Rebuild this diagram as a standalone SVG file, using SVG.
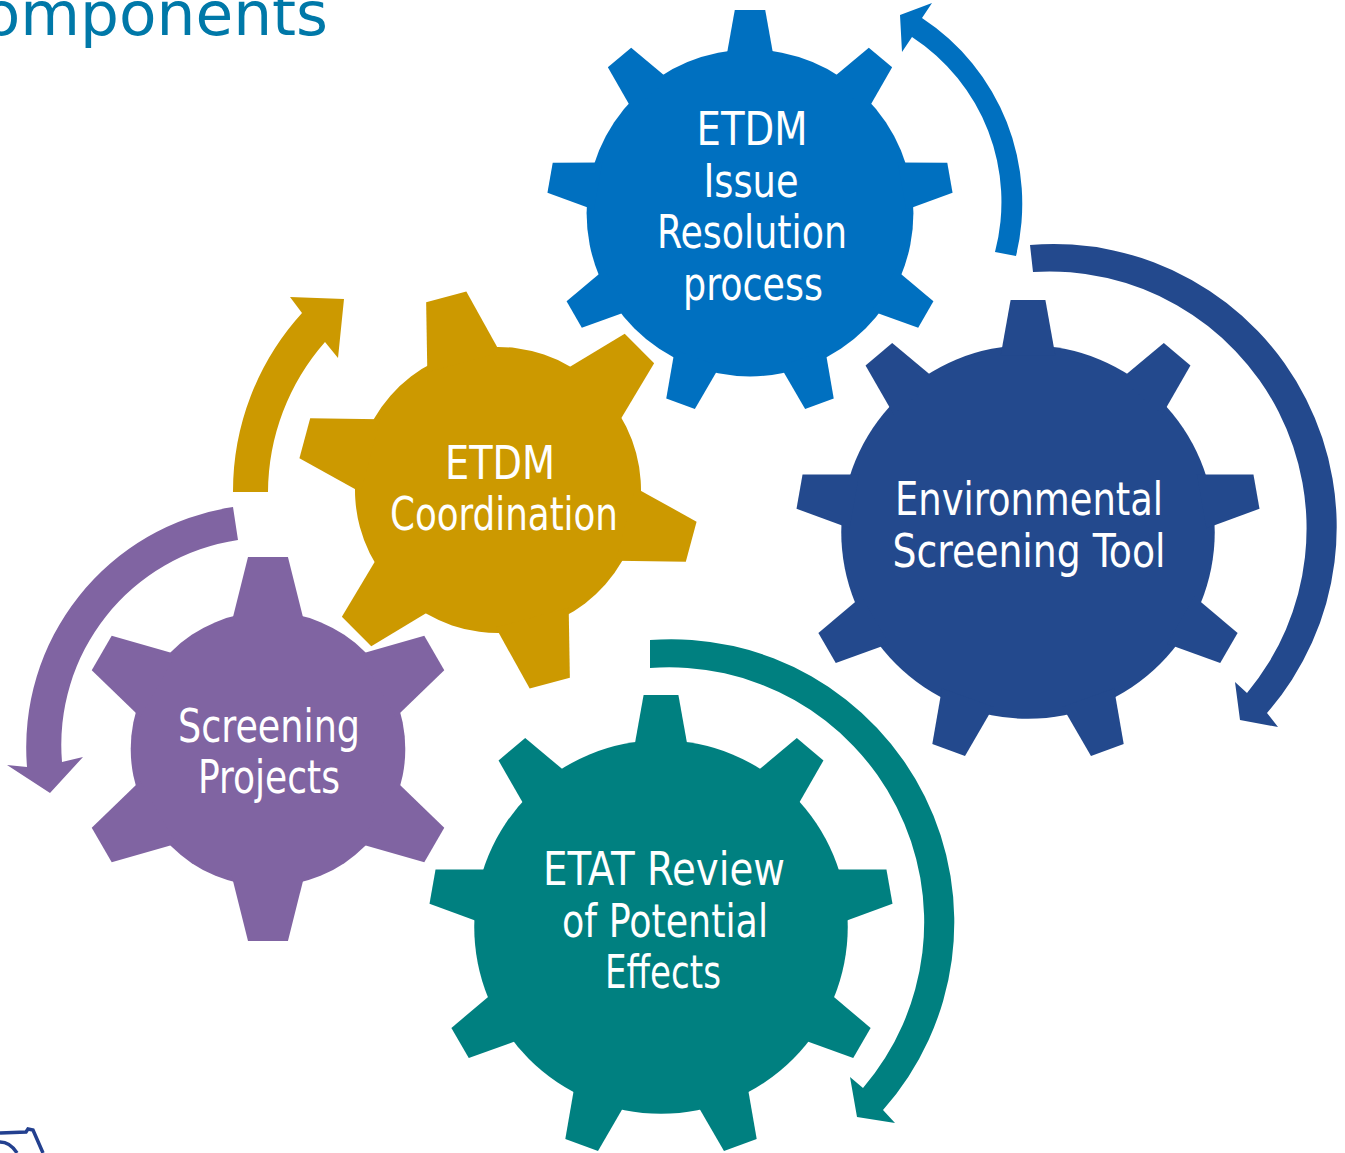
<svg xmlns="http://www.w3.org/2000/svg" width="1345" height="1153" viewBox="0 0 1345 1153">
<style>
.lbl{font-family:"DejaVu Sans Condensed","DejaVu Sans",Verdana,sans-serif;font-stretch:condensed;font-size:46px;fill:#ffffff;text-anchor:middle}
.title{font-family:"DejaVu Sans",Verdana,sans-serif;font-size:60px;fill:#0078A8}
.blue{fill:#0070C0}
.navy{fill:#23498D}
.gold{fill:#CC9900}
.purple{fill:#8064A2}
.teal{fill:#008080}
</style>
<defs>
<path id="t9" d="M-11.8,-76 L-7.5,-100 L7.5,-100 L11.8,-76 Z"/>
<g id="gear9">
<circle r="80.5"/>
<use href="#t9"/>
<use href="#t9" transform="rotate(40)"/>
<use href="#t9" transform="rotate(80)"/>
<use href="#t9" transform="rotate(120)"/>
<use href="#t9" transform="rotate(160)"/>
<use href="#t9" transform="rotate(200)"/>
<use href="#t9" transform="rotate(240)"/>
<use href="#t9" transform="rotate(280)"/>
<use href="#t9" transform="rotate(320)"/>
</g>
<path id="t6" d="M-18.9,-66 L-10.4,-100 L10.4,-100 L18.9,-66 Z"/>
<g id="gear6">
<circle r="71.5"/>
<use href="#t6"/>
<use href="#t6" transform="rotate(60)"/>
<use href="#t6" transform="rotate(120)"/>
<use href="#t6" transform="rotate(180)"/>
<use href="#t6" transform="rotate(240)"/>
<use href="#t6" transform="rotate(300)"/>
</g>
</defs>

<text class="title" x="-60" y="35" textLength="388" lengthAdjust="spacingAndGlyphs">Components</text>

<g id="connectors">
<path class="blue" d="M1016,256 A222,222 0 0 0 922,18 L932,3 L900,15 L902,52 L912,37 A197,197 0 0 1 995,252 Z"/>
<path class="navy" d="M1030,245 A283,283 0 0 1 1267,713 L1278,727 L1240,720 L1235,682 L1247,693 A257,257 0 0 0 1033,272 Z"/>
<path class="teal" d="M650,640 A283,283 0 0 1 883,1110 L895,1123 L857,1117 L850,1077 L863,1088 A255,255 0 0 0 650,668 Z"/>
<path class="gold" d="M233,492 A265,265 0 0 1 302,313 L290,297 L344,299 L338,358 L325,342 A229,229 0 0 0 268,492 Z"/>
<path class="purple" d="M233,507 A243,243 0 0 0 27,767 L7,765 L50,793 L83,757 L62,762 A207,207 0 0 1 238,540 Z"/>
</g>

<g id="node-etdm-issue-resolution">
<use href="#gear9" class="blue" transform="translate(750,213) scale(2.03)"/>
<text class="lbl" x="752" y="145" textLength="111" lengthAdjust="spacingAndGlyphs">ETDM</text>
<text class="lbl" x="751" y="197" textLength="95" lengthAdjust="spacingAndGlyphs">Issue</text>
<text class="lbl" x="752" y="248" textLength="190" lengthAdjust="spacingAndGlyphs">Resolution</text>
<text class="lbl" x="753" y="300" textLength="140" lengthAdjust="spacingAndGlyphs">process</text>
</g>

<g id="node-environmental-screening-tool">
<use href="#gear9" class="navy" transform="translate(1028,532) scale(2.32)"/>
<text class="lbl" x="1029" y="515" textLength="268" lengthAdjust="spacingAndGlyphs">Environmental</text>
<text class="lbl" x="1029" y="567" textLength="273" lengthAdjust="spacingAndGlyphs">Screening Tool</text>
</g>

<g id="node-etat-review">
<use href="#gear9" class="teal" transform="translate(661,927) scale(2.32)"/>
<text class="lbl" x="664" y="885" textLength="242" lengthAdjust="spacingAndGlyphs">ETAT Review</text>
<text class="lbl" x="665" y="937" textLength="206" lengthAdjust="spacingAndGlyphs">of Potential</text>
<text class="lbl" x="663" y="988" textLength="116" lengthAdjust="spacingAndGlyphs">Effects</text>
</g>

<g id="node-etdm-coordination">
<use href="#gear6" class="gold" transform="translate(498,490) rotate(-15) scale(2)"/>
<text class="lbl" x="500" y="479" textLength="110" lengthAdjust="spacingAndGlyphs">ETDM</text>
<text class="lbl" x="504" y="530" textLength="228" lengthAdjust="spacingAndGlyphs">Coordination</text>
</g>

<g id="node-screening-projects">
<use href="#gear6" class="purple" transform="translate(268,749) scale(1.92)"/>
<text class="lbl" x="269" y="742" textLength="182" lengthAdjust="spacingAndGlyphs">Screening</text>
<text class="lbl" x="269" y="793" textLength="142" lengthAdjust="spacingAndGlyphs">Projects</text>
</g>

<path d="M0,1133 L26,1132 L28,1129 L33,1130 L43,1153 M0,1142 Q10,1142 17,1153" fill="none" stroke="#23408F" stroke-width="3.5"/>
</svg>
